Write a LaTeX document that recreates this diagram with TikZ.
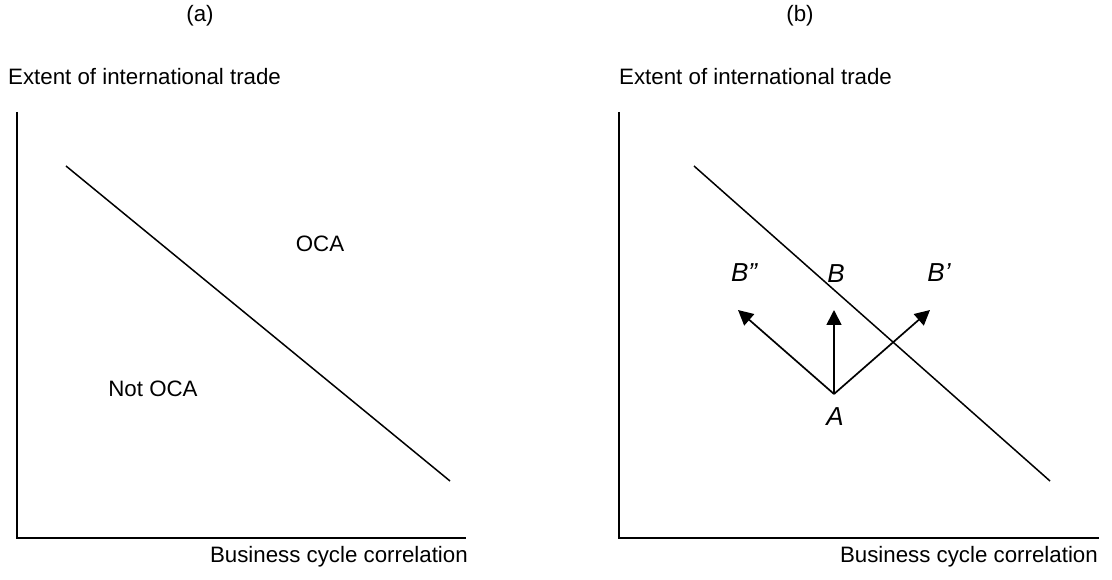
\documentclass[tikz,border=0pt]{standalone}
\usepackage{fontspec}
\setmainfont{Liberation Sans}
\usetikzlibrary{arrows.meta}
\begin{document}
\begin{tikzpicture}[x=1pt,y=-1pt,
  lbl/.style={inner sep=0pt,font=\fontsize{22.3}{26}\selectfont},
  pt/.style={inner sep=0pt,font=\fontsize{26}{30}\selectfont\itshape},
  axis/.style={line width=2pt},
  diag/.style={line width=1.5pt},
  vec/.style={line width=1.7pt,-{Triangle[length=15pt,width=15pt]}}]
\useasboundingbox (0,0) rectangle (1112,580);
% panel (a)
\node[lbl] (ta) at (200,16) {(a)};
\node[lbl,anchor=west] (ya) at (8,77) {Extent of international trade};
\coordinate (a0) at (17,538);
\coordinate (atop) at (17,112);
\coordinate (aright) at (466,538);
\draw[axis] (atop) -- (a0) -- (aright);
\coordinate (d1) at (66,166);
\coordinate (d2) at (450,481);
\draw[diag] (d1) -- (d2);
\node[lbl] (oca) at (320,244) {OCA};
\node[lbl] (noca) at (153,389) {Not OCA};
\node[lbl,anchor=east] (xa) at (468,557) {Business cycle correlation};
% panel (b)
\node[lbl] (tb) at (800,16) {(b)};
\node[lbl,anchor=west] (yb) at (619,77) {Extent of international trade};
\coordinate (b0) at (619,538);
\coordinate (btop) at (619,112);
\coordinate (bright) at (1099,538);
\draw[axis] (btop) -- (b0) -- (bright);
\coordinate (e1) at (694,166);
\coordinate (e2) at (1050,481);
\draw[diag] (e1) -- (e2);
\coordinate (A) at (834,394);
\coordinate (Bpp) at (738,310);
\coordinate (B) at (834,310);
\coordinate (Bp) at (930,310);
\draw[vec] (A) -- (Bpp);
\draw[vec] (A) -- (B);
\draw[vec] (A) -- (Bp);
\node[pt] (lA) at (835,417) {A};
\node[pt] (lBpp) at (744,273) {B”};
\node[pt] (lB) at (836,274) {B};
\node[pt] (lBp) at (939,273) {B’};
\node[lbl,anchor=east] (xb) at (1098,557) {Business cycle correlation};
\end{tikzpicture}
\end{document}
